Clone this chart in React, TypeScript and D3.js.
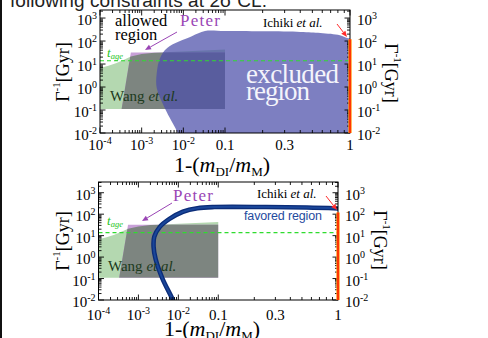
import React from "react";
import * as d3 from "d3";

const W = 488;
const H = 338;

// axis ticks
const xTickValues = [1e-4, 1e-3, 1e-2, 0.1, 0.3, 1];
const xTickBase = ["10", "10", "10", "0.1", "0.3", "1"];
const xTickExp = ["-4", "-3", "-2", "", "", ""];
const yTickValues = [1e-2, 1e-1, 1, 10, 100, 1000];
const yTickExp = ["-2", "-1", "0", "1", "2", "3"];

// constants
const tAge = 13.8;
const ichikiMax = 120;
const yMin = 0.01;

// Wang et al. region (closed polygon)
const wangX = [1e-4, 1.6e-4, 2.5e-4, 4e-4, 5.5e-4, 1e-3, 2e-3, 0.1, 0.1, 1e-4];
const wangY = [6.7, 8.5, 11, 16, 21, 27, 31, 43, 0.11, 0.11];

// Peter region (closed polygon)
const peterX = [3.3e-4, 5.5e-4, 0.1, 0.1];
const peterY = [0.11, 32, 32, 0.11];

// excluded region boundary (top panel)
const excludedX = [8.5e-3, 7.4e-3, 3.6e-3, 2.3e-3, 2.3e-3, 2.75e-3, 4.1e-3, 1.6e-2, 3.3e-2, 0.1, 0.4, 0.58, 0.83, 0.95, 1];
const excludedY = [0.005, 0.01, 0.12, 0.9, 4, 18, 50, 160, 270, 270, 250, 225, 180, 135, 130];

// favored region boundary curve (bottom panel)
const favoredX = [8e-3, 7.5e-3, 4.0e-3, 2.7e-3, 2.4e-3, 2.5e-3, 3.4e-3, 6.0e-3, 1.3e-2, 3.0e-2, 8.0e-2, 0.25, 0.55, 1];
const favoredY = [0.006, 0.009, 0.1, 0.8, 3, 9, 25, 60, 130, 190, 215, 215, 205, 185];

type Cfg = {
  id: string;
  x0: number;
  x1: number;
  yt: number;
  yb: number;
  yMaxExp: number;
  xLabDy: number;
  excluded: boolean;
  yTitleL: [number, number];
  yTitleR: [number, number];
  xTitle: [number, number];
  peter: [number, number];
  peterArrow: [number, number, number, number];
  tage: [number, number];
  wang: [number, number];
  ichiki: [number, number];
  ichikiArrow: [number, number, number, number];
};

const panels: Cfg[] = [
  {
    id: "top", x0: 100, x1: 350, yt: 10, yb: 133, yMaxExp: 3.35, xLabDy: 17, excluded: true,
    yTitleL: [63, 72], yTitleR: [391, 73], xTitle: [222, 172],
    peter: [180, 26], peterArrow: [177, 32, 145, 50], tage: [107, 57], wang: [110, 101],
    ichiki: [263, 27], ichikiArrow: [337, 24, 347, 37],
  },
  {
    id: "bot", x0: 98.5, x1: 338, yt: 182, yb: 300, yMaxExp: 3.5, xLabDy: 20, excluded: false,
    yTitleL: [63, 241], yTitleR: [380, 240], xTitle: [212, 336],
    peter: [173, 201], peterArrow: [172, 203, 142, 221], tage: [107, 225], wang: [108, 271],
    ichiki: [257, 198], ichikiArrow: [326, 196, 337, 210],
  },
];

const serif = "'Liberation Serif', 'DejaVu Serif', serif";
const sans = "'Liberation Sans', Arial, sans-serif";

function Arrow({ a, color }: { a: [number, number, number, number]; color: string }) {
  const [x1, y1, x2, y2] = a;
  const ang = Math.atan2(y2 - y1, x2 - x1);
  const L = 6, w = 2.6;
  const bx = x2 - L * Math.cos(ang), by = y2 - L * Math.sin(ang);
  const px = -Math.sin(ang) * w, py = Math.cos(ang) * w;
  return (
    <g>
      <line x1={x1} y1={y1} x2={bx} y2={by} stroke={color} strokeWidth={1} />
      <polygon points={`${x2},${y2} ${bx + px},${by + py} ${bx - px},${by - py}`} fill={color} />
    </g>
  );
}

function Panel({ c }: { c: Cfg }) {
  const xm = (c.x0 + c.x1) / 2;
  const xl = d3.scaleLinear().domain([-4, -1, 0]).range([c.x0, xm, c.x1]);
  const sx = (v: number) => xl(Math.log10(v));
  const sy = d3.scaleLog().domain([yMin, Math.pow(10, c.yMaxExp)]).range([c.yb, c.yt]);

  const poly = (xs: number[], ys: number[]) =>
    "M" + xs.map((x, i) => `${sx(x)},${sy(ys[i])}`).join("L") + "Z";
  const wangPath = poly(wangX, wangY);
  const peterPath = poly(peterX, peterY);

  const idx = excludedX.map((_, i) => i);
  const exclLine = d3
    .line<number>()
    .x((i) => sx(excludedX[i]))
    .y((i) => sy(excludedY[i]))
    .curve(d3.curveCatmullRom.alpha(0.5))(idx) as string;
  const exclPath =
    exclLine +
    `L${c.x1 + 6},${sy(excludedY[excludedY.length - 1])}L${c.x1 + 6},${c.yb + 6}L${sx(excludedX[0])},${c.yb + 6}Z`;

  const fidx = favoredX.map((_, i) => i);
  const favPath = d3
    .line<number>()
    .x((i) => sx(favoredX[i]))
    .y((i) => sy(favoredY[i]))
    .curve(d3.curveCatmullRom.alpha(0.5))(fidx) as string;

  const xMinor: number[] = [];
  for (const k of [-4, -3, -2, -1]) for (let m = 2; m <= 9; m++) xMinor.push(m * Math.pow(10, k));
  const xMajor = [1e-4, 1e-3, 1e-2, 0.1, 1];
  const yMax = Math.pow(10, c.yMaxExp);
  const yMinor: number[] = [];
  for (const k of [-2, -1, 0, 1, 2, 3]) for (let m = 2; m <= 9; m++) {
    const v = m * Math.pow(10, k);
    if (v < yMax) yMinor.push(v);
  }

  const tickLines: React.ReactNode[] = [];
  const addX = (v: number, len: number, key: string) => {
    const x = sx(v);
    tickLines.push(<line key={key + "b"} x1={x} x2={x} y1={c.yb} y2={c.yb - len} stroke="#000" strokeWidth={0.9} />);
    tickLines.push(<line key={key + "t"} x1={x} x2={x} y1={c.yt} y2={c.yt + len} stroke="#000" strokeWidth={0.9} />);
  };
  const addY = (v: number, len: number, key: string) => {
    const y = sy(v);
    tickLines.push(<line key={key + "l"} x1={c.x0} x2={c.x0 + len} y1={y} y2={y} stroke="#000" strokeWidth={0.9} />);
    tickLines.push(<line key={key + "r"} x1={c.x1} x2={c.x1 - len} y1={y} y2={y} stroke="#000" strokeWidth={0.9} />);
  };
  xMinor.forEach((v, i) => addX(v, 3, "xm" + i));
  xMajor.forEach((v, i) => addX(v, 5.5, "xM" + i));
  yMinor.forEach((v, i) => addY(v, 3, "ym" + i));
  yTickValues.forEach((v, i) => addY(v, 5.5, "yM" + i));

  const yTitle = (x: number, y: number, rot: number, key: string) => (
    <text key={key} transform={`translate(${x},${y}) rotate(${rot})`} textAnchor="middle" dominantBaseline="central"
      fontFamily={serif} fontSize={18} fill="#000">
      Γ<tspan fontSize={11} dy={-7}>-1</tspan><tspan dy={7}>[Gyr]</tspan>
    </text>
  );

  return (
    <g>
      <defs>
        <clipPath id={`clip-${c.id}`}>
          <rect x={c.x0} y={c.yt} width={c.x1 - c.x0} height={c.yb - c.yt} />
        </clipPath>
        <clipPath id={`wang-${c.id}`}>
          <path d={wangPath} />
        </clipPath>
      </defs>
      <g clipPath={`url(#clip-${c.id})`}>
        <path d={wangPath} fill="#b4d8b0" />
        <path d={peterPath} fill="#c8a0d8" />
        <path d={peterPath} fill="#7d8580" clipPath={`url(#wang-${c.id})`} />
        {c.excluded && <path d={exclPath} fill="#4b4da9" fillOpacity={0.72} />}
        <line x1={c.x0} x2={c.x1} y1={sy(tAge)} y2={sy(tAge)} stroke="#2fdc2f" strokeWidth={1.1} strokeDasharray="4,3" />
        {!c.excluded && (
          <g>
            <path d={favPath} fill="none" stroke="#0b2c78" strokeWidth={4.6} strokeLinecap="round" />
            <path d={favPath} fill="none" stroke="#1a4699" strokeWidth={2} strokeLinecap="round" />
          </g>
        )}
      </g>
      <rect x={c.x0} y={c.yt} width={c.x1 - c.x0} height={c.yb - c.yt} fill="none" stroke="#000" strokeWidth={1} />
      {tickLines}
      <line x1={sx(1)} x2={sx(1)} y1={sy(yMin)} y2={sy(ichikiMax)} stroke="#ff9a1a" strokeWidth={3.4} />
      <line x1={sx(1)} x2={sx(1)} y1={sy(yMin)} y2={sy(ichikiMax)} stroke="#ff2a00" strokeWidth={1.8} />

      {/* x tick labels */}
      {xTickValues.map((v, i) => (
        <text key={"xl" + i} x={sx(v)} y={c.yb + c.xLabDy} textAnchor="middle" fontFamily={serif} fontSize={15} fill="#000">
          {xTickBase[i]}
          {xTickExp[i] && <tspan fontSize={10} dy={-6}>{xTickExp[i]}</tspan>}
        </text>
      ))}
      {/* y tick labels */}
      {yTickValues.map((v, i) => (
        <g key={"yl" + i}>
          <text x={c.x0 - 3} y={sy(v) + 7} textAnchor="end" fontFamily={serif} fontSize={15} fill="#000">
            10<tspan fontSize={10} dy={-6}>{yTickExp[i]}</tspan>
          </text>
          <text x={c.x1 + 7} y={sy(v) + 7} textAnchor="start" fontFamily={serif} fontSize={15} fill="#000">
            10<tspan fontSize={10} dy={-6}>{yTickExp[i]}</tspan>
          </text>
        </g>
      ))}
      {yTitle(c.yTitleL[0], c.yTitleL[1], -90, "ytl")}
      {yTitle(c.yTitleR[0], c.yTitleR[1], 90, "ytr")}
      <text x={c.xTitle[0]} y={c.xTitle[1]} textAnchor="middle" fontFamily={serif} fontSize={22} fill="#000">
        1-(<tspan fontStyle="italic">m</tspan>
        <tspan fontSize={13} dy={4}>DI</tspan>
        <tspan dy={-4}>/</tspan>
        <tspan fontStyle="italic">m</tspan>
        <tspan fontSize={13} dy={4}>M</tspan>
        <tspan dy={-4}>)</tspan>
      </text>

      {/* annotations */}
      <text x={c.peter[0]} y={c.peter[1]} fontFamily={serif} fontSize={17} fill="#9a45b5" textLength={40}>Peter</text>
      <Arrow a={c.peterArrow} color="#9a45b5" />
      <text x={c.tage[0]} y={c.tage[1]} fontFamily={serif} fontSize={13} fill="#22c422" fontStyle="italic">
        t<tspan fontSize={8.5} dy={2}>age</tspan>
      </text>
      <text x={c.wang[0]} y={c.wang[1]} fontFamily={serif} fontSize={15} fill="#1c3a1c">
        Wang <tspan fontStyle="italic">et al.</tspan>
      </text>
      <text x={c.ichiki[0]} y={c.ichiki[1]} fontFamily={serif} fontSize={13} fill="#000">
        Ichiki <tspan fontStyle="italic">et al.</tspan>
      </text>
      <Arrow a={c.ichikiArrow} color="#ff2a2a" />
      {c.excluded ? (
        <g>
          <text x={115} y={26} fontFamily={serif} fontSize={16.5} fill="#000">allowed</text>
          <text x={115} y={40} fontFamily={serif} fontSize={16.5} fill="#000">region</text>
          <text x={246} y={83} fontFamily={serif} fontSize={27} fill="#f4f4fb" textLength={93}>excluded</text>
          <text x={246} y={100} fontFamily={serif} fontSize={27} fill="#f4f4fb" textLength={64}>region</text>
        </g>
      ) : (
        <text x={244} y={220} fontFamily={sans} fontSize={12.5} fill="#1f4b9e" textLength={78}>favored region</text>
      )}
    </g>
  );
}

export default function App() {
  return (
    <svg width={W} height={H} viewBox={`0 0 ${W} ${H}`}
      style={{ position: "fixed", left: 0, top: 0, background: "#fff" }}>
      <rect x={0} y={0} width={W} height={H} fill="#fff" />
      <line x1={1} x2={1} y1={0} y2={H} stroke="#111" strokeWidth={2} />
      <text x={10} y={7} fontFamily={sans} fontSize={19} fill="#222" textLength={257}>following constraints at 2σ CL.</text>
      {panels.map((c) => (
        <Panel key={c.id} c={c} />
      ))}
    </svg>
  );
}
